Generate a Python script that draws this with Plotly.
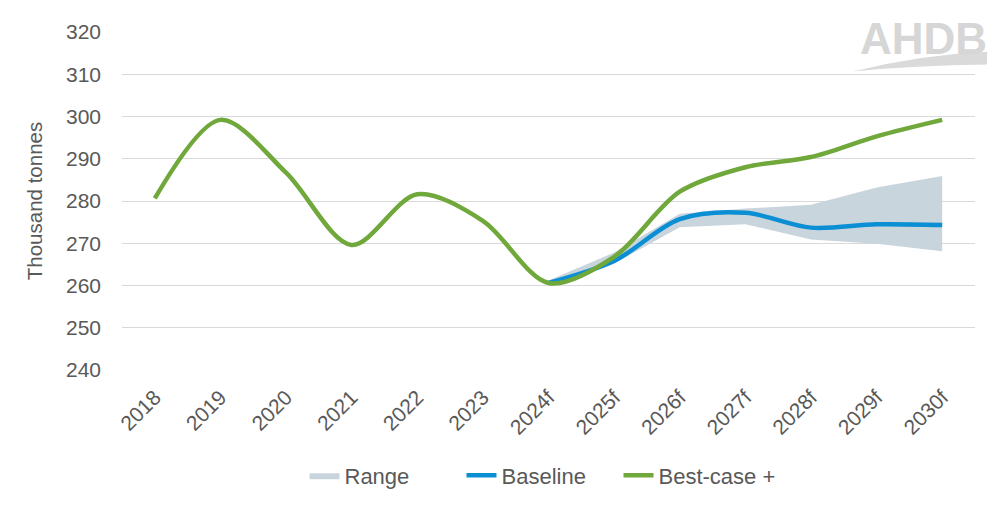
import plotly.graph_objects as go

categories = ["2018", "2019", "2020", "2021", "2022", "2023", "2024f",
              "2025f", "2026f", "2027f", "2028f", "2029f", "2030f"]

best_case = [280.6, 299.2, 286.7, 269.6, 281.6, 275.3, 260.6,
             266.8, 282.2, 288.0, 290.4, 295.3, 299.2]

baseline_cats = ["2024f", "2025f", "2026f", "2027f", "2028f", "2029f", "2030f"]
baseline = [260.6, 265.8, 275.7, 277.2, 273.7, 274.5, 274.3]

range_cats = ["2024f", "2025f", "2026f", "2027f", "2028f", "2029f", "2030f"]
range_low = [260.6, 265.2, 273.8, 274.5, 270.9, 269.9, 268.1]
range_high = [261.2, 267.8, 277.0, 278.2, 279.1, 283.2, 285.9]

y_ticks = [240, 250, 260, 270, 280, 290, 300, 310, 320]

GREEN = "#70A83B"
BLUE = "#0A8ED4"
GREY = "#C9D5DC"
TEXT = "#595959"

fig = go.Figure()

fig.add_trace(go.Scatter(
    x=range_cats, y=range_low, mode="lines", line=dict(width=0, color=GREY),
    showlegend=False, hoverinfo="skip"))
fig.add_trace(go.Scatter(
    x=range_cats, y=range_high, mode="lines", line=dict(width=0, color=GREY),
    fill="tonexty", fillcolor=GREY, name="Range"))
fig.add_trace(go.Scatter(
    x=baseline_cats, y=baseline, mode="lines", name="Baseline",
    line=dict(color=BLUE, width=4.5, shape="spline", smoothing=0.9)))
fig.add_trace(go.Scatter(
    x=categories, y=best_case, mode="lines", name="Best-case +",
    line=dict(color=GREEN, width=4.5, shape="spline", smoothing=0.9)))

# page offset of 8px (body margin); plot area in page pixels: x 122..975, y 27..370
def px(X):
    return (X - 122) / 853

def py(Y):
    return (370 - Y) / 343

# logo backdrop and wave
fig.add_shape(type="rect", xref="paper", yref="paper", layer="above",
              x0=px(843), x1=px(992), y0=py(32), y1=py(8),
              fillcolor="white", line=dict(width=0))
wave = (f"M {px(853)} {py(67)} Q {px(920)} {py(50)} {px(987)} {py(47)} "
        f"L {px(987)} {py(60)} Q {px(915)} {py(61)} {px(853)} {py(67)} Z")
fig.add_shape(type="path", xref="paper", yref="paper", layer="above",
              path=wave, fillcolor="#DADADA", line=dict(width=0))
fig.add_annotation(xref="paper", yref="paper", x=px(988), y=py(8),
                   xanchor="right", yanchor="top", showarrow=False,
                   borderpad=0,
                   text="<b>AHDB</b>",
                   font=dict(family="Arial, Liberation Sans", size=44,
                             color="#D6D6D6"))

fig.update_layout(
    width=992, height=505,
    margin=dict(l=114, r=25, t=19, b=143),
    plot_bgcolor="white", paper_bgcolor="white",
    font=dict(family="Arial, Liberation Sans, sans-serif", size=20, color=TEXT),
    showlegend=True,
    legend=dict(orientation="h", x=px(540), xanchor="center", y=py(477), yanchor="middle",
                font=dict(size=22, color=TEXT), traceorder="normal",
                entrywidth=112, entrywidthmode="pixels"),
    xaxis=dict(type="category", categoryorder="array", categoryarray=categories,
               range=[-0.5, 12.5],
               tickangle=-45, showgrid=False, zeroline=False, showline=False,
               ticks="", ticklabelstandoff=10,
               tickfont=dict(size=21, color=TEXT)),
    yaxis=dict(range=[240, 320], tickvals=y_ticks, showgrid=True,
               gridcolor="#D9D9D9", gridwidth=1, zeroline=False, showline=False,
               ticks="", ticklabelstandoff=20,
               tickfont=dict(size=21, color=TEXT),
               title=dict(text="Thousand tonnes", standoff=17,
                          font=dict(size=20.5, color=TEXT))),
)

fig.write_html("out.html")
